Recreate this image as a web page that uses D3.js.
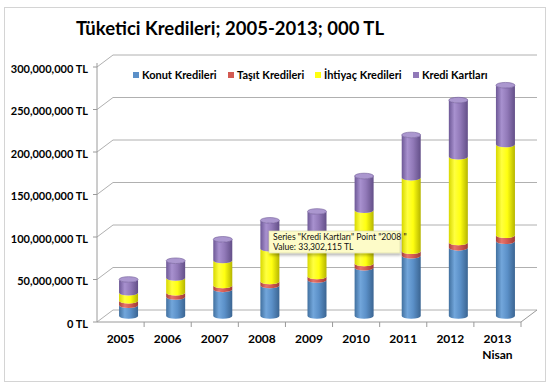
<!DOCTYPE html>
<html>
<head>
<meta charset="utf-8">
<script src="https://cdn.jsdelivr.net/npm/d3@7"></script>
<style>
  body { margin: 0; background: #fff; }
  svg text { font-family: Lato, "Open Sans", sans-serif; }
</style>
</head>
<body>
<div id="chart"></div>
<script>
// data, 000 TL
const years = ["2005", "2006", "2007", "2008", "2009", "2010", "2011", "2012", "2013"];
const yearSub = ["", "", "", "", "", "", "", "", "Nisan"];
const seriesNames = ["Konut Kredileri", "Taşıt Kredileri", "İhtiyaç Kredileri", "Kredi Kartları"];
const konut   = [12600000, 22400000, 31300000, 36000000, 42400000, 56700000, 70800000, 80200000, 88000000];
const tasit   = [5400000, 5000000, 4700000, 4700000, 4000000, 5100000, 5400000, 6300000, 7000000];
const ihtiyac = [9400000, 17300000, 29400000, 38500000, 39600000, 62700000, 86400000, 100800000, 106800000];
const kart    = [15600000, 20300000, 24800000, 33302115, 37000000, 40200000, 50400000, 66700000, 69700000];
const yTicks  = [0, 50000000, 100000000, 150000000, 200000000, 250000000, 300000000];

const width = 550, height = 385;
// 3d depth offset (front -> back)
const depthX = 16, depthY = -12;

// cylinder shading per series
const palette = [
  { dark: "#41709f", light: "#72a6db", base: "#5b90c8", edge: "#3b6592", top: "#7eaedd" },
  { dark: "#a8423d", light: "#e5746c", base: "#d35a52", edge: "#9c3c37", top: "#e8857e" },
  { dark: "#d8d800", light: "#ffff40", base: "#ffff10", edge: "#b5b500", top: "#ffff70" },
  { dark: "#6d5896", light: "#a891cf", base: "#9179b8", edge: "#634f88", top: "#ab97cf" }
];

const table = years.map((y, i) => ({
  year: y,
  [seriesNames[0]]: konut[i],
  [seriesNames[1]]: tasit[i],
  [seriesNames[2]]: ihtiyac[i],
  [seriesNames[3]]: kart[i]
}));
const stacked = d3.stack().keys(seriesNames)(table);

const svg = d3.select("#chart").append("svg")
  .attr("width", width)
  .attr("height", height);

const defs = svg.append("defs");
palette.forEach((c, i) => {
  const g = defs.append("linearGradient").attr("id", "cyl" + i)
    .attr("x1", 0).attr("x2", 1).attr("y1", 0).attr("y2", 0);
  g.append("stop").attr("offset", "0%").attr("stop-color", c.dark);
  g.append("stop").attr("offset", "30%").attr("stop-color", c.light);
  g.append("stop").attr("offset", "60%").attr("stop-color", c.base);
  g.append("stop").attr("offset", "100%").attr("stop-color", c.edge);
});
const sh = defs.append("filter").attr("id", "shadow")
  .attr("x", "-10%").attr("y", "-20%").attr("width", "130%").attr("height", "180%");
sh.append("feDropShadow").attr("dx", 1).attr("dy", 2).attr("stdDeviation", 1.5)
  .attr("flood-color", "#000").attr("flood-opacity", 0.3);

// outer frame
svg.append("rect")
  .attr("x", 4.5).attr("y", 7.5)
  .attr("width", 541).attr("height", 374)
  .attr("fill", "#fff")
  .attr("stroke", "#d4d4d4");

// title
svg.append("text")
  .attr("x", 230).attr("y", 35)
  .attr("text-anchor", "middle")
  .attr("font-size", 18.5)
  .attr("font-weight", "bold")
  .attr("fill", "#000")
  .text("Tüketici Kredileri; 2005-2013; 000 TL");

// scales
const x = d3.scaleBand().domain(years).range([97, 521]).padding(0);
const yFront = d3.scaleLinear().domain([0, 300000000]).range([322, 67]);
const yBack = v => yFront(v) + depthY;
const yMid = v => yFront(v) + depthY / 2;

// walls: gridlines
const grid = svg.append("g").attr("fill", "none");
yTicks.forEach(t => {
  grid.append("line")
    .attr("x1", 97).attr("y1", yFront(t))
    .attr("x2", 97 + depthX).attr("y2", yBack(t))
    .attr("stroke", "#b0b0b0");
  grid.append("line")
    .attr("x1", 97 + depthX).attr("y1", yBack(t))
    .attr("x2", 521 + depthX).attr("y2", yBack(t))
    .attr("stroke", "#b0b0b0");
  grid.append("line")
    .attr("x1", 93).attr("y1", yFront(t))
    .attr("x2", 97).attr("y2", yFront(t))
    .attr("stroke", "#9a9a9a");
});
// front axis + floor
grid.append("line")
  .attr("x1", 97).attr("y1", yFront(300000000) - 4)
  .attr("x2", 97).attr("y2", yFront(0))
  .attr("stroke", "#9a9a9a");
grid.append("line")
  .attr("x1", 97).attr("y1", yFront(0))
  .attr("x2", 521).attr("y2", yFront(0))
  .attr("stroke", "#9a9a9a");
grid.append("line")
  .attr("x1", 521).attr("y1", yFront(0))
  .attr("x2", 521 + depthX).attr("y2", yBack(0))
  .attr("stroke", "#9a9a9a");
years.forEach(y => {
  grid.append("line")
    .attr("x1", x(y) + x.bandwidth()).attr("y1", yFront(0))
    .attr("x2", x(y) + x.bandwidth()).attr("y2", yFront(0) + 5)
    .attr("stroke", "#9a9a9a");
});

// y labels
svg.append("g").selectAll("text")
  .data(yTicks)
  .join("text")
  .attr("x", 88)
  .attr("y", d => yFront(d) + 2)
  .attr("dy", "0.35em")
  .attr("text-anchor", "end")
  .attr("font-size", 11)
  .attr("font-weight", "bold")
  .text(d => d3.format(",")(d) + " TL");

// x labels
const xl = svg.append("g").selectAll("text")
  .data(years)
  .join("text")
  .attr("x", d => x(d) + x.bandwidth() / 2)
  .attr("y", 343)
  .attr("text-anchor", "middle")
  .attr("font-size", 12)
  .attr("font-weight", "bold");
xl.append("tspan").text(d => d);
xl.append("tspan")
  .attr("x", d => x(d) + x.bandwidth() / 2)
  .attr("dy", 16)
  .text((d, i) => yearSub[i]);

// cylinders
const r = 9.5, ry = 2.8;
function segPath(cx, y0, y1) {
  // y0 bottom, y1 top (screen coords), front halves of ellipses
  return `M${cx - r},${y1} L${cx - r},${y0} A${r},${ry} 0 0 0 ${cx + r},${y0} L${cx + r},${y1} A${r},${ry} 0 0 1 ${cx - r},${y1} Z`;
}
const bars = svg.append("g");
years.forEach((yr, i) => {
  const cx = x(yr) + x.bandwidth() / 2 + depthX / 2;
  stacked.forEach((s, k) => {
    const d = s[i];
    bars.append("path")
      .attr("d", segPath(cx, yMid(d[0]), yMid(d[1])))
      .attr("fill", `url(#cyl${k})`);
  });
  const topVal = stacked[stacked.length - 1][i][1];
  bars.append("ellipse")
    .attr("cx", cx).attr("cy", yMid(topVal))
    .attr("rx", r).attr("ry", ry)
    .attr("fill", palette[3].top)
    .attr("stroke", palette[3].dark)
    .attr("stroke-width", 0.6);
});

// legend
const legendX = [133, 228, 315, 413];
const legend = svg.append("g").selectAll("g")
  .data(seriesNames)
  .join("g")
  .attr("transform", (d, i) => `translate(${legendX[i]},72)`);
legend.append("rect")
  .attr("width", 6).attr("height", 6)
  .attr("fill", (d, i) => palette[i].base);
legend.append("text")
  .attr("x", 9).attr("y", 3)
  .attr("dy", "0.35em")
  .attr("font-size", 11)
  .attr("font-weight", "bold")
  .text(d => d);

// hover tooltip captured in the picture
const tip = svg.append("g").attr("transform", "translate(269,231)");
tip.append("rect")
  .attr("width", 131).attr("height", 22)
  .attr("fill", "#fdfbc8")
  .attr("stroke", "#d8d6a8")
  .attr("stroke-width", 0.6)
  .attr("filter", "url(#shadow)");
tip.append("text")
  .attr("x", 4).attr("y", 9)
  .attr("font-size", 8.6)
  .attr("fill", "#111")
  .text(`Series "${seriesNames[3]}" Point "${years[3]} "`);
tip.append("text")
  .attr("x", 4).attr("y", 19)
  .attr("font-size", 8.6)
  .attr("fill", "#111")
  .text(`Value: ${d3.format(",")(kart[3])} TL`);
</script>
</body>
</html>
